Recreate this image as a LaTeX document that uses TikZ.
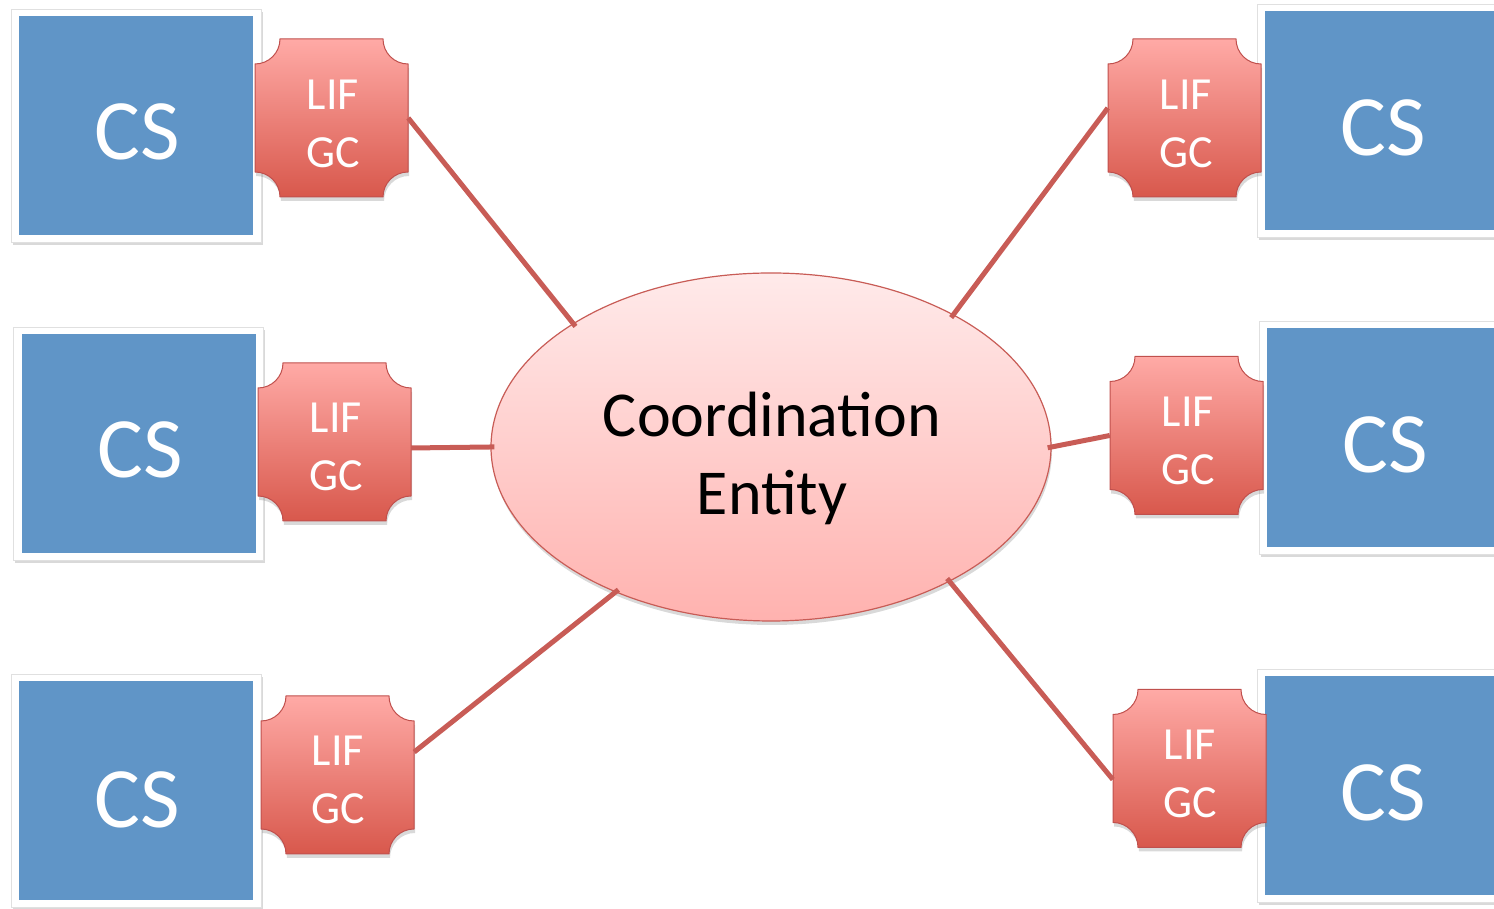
\documentclass[tikz,border=0pt]{standalone}
\usepackage{fontspec}
\setmainfont{Carlito}
\usetikzlibrary{shadows,shapes.geometric}
\definecolor{csblue}{RGB}{96,149,199}
\definecolor{plqtop}{RGB}{255,170,166}
\definecolor{plqbot}{RGB}{216,88,76}
\definecolor{plqedge}{RGB}{192,80,77}
\definecolor{elltop}{RGB}{255,234,234}
\definecolor{ellbot}{RGB}{255,178,175}
\definecolor{linkcol}{RGB}{200,92,86}
\tikzset{
  csframe/.style={rectangle, fill=white, draw=black!12, line width=0.6pt, inner sep=0pt,
    minimum width=250pt, minimum height=233pt,
    drop shadow={shadow xshift=1.5pt, shadow yshift=-3pt, opacity=0.3}},
  csinner/.style={rectangle, fill=csblue, inner sep=0pt, minimum width=234pt, minimum height=219pt},
  cstext/.style={text=white, inner sep=0pt, font=\fontsize{86}{96}\selectfont},
  plqfill/.style={top color=plqtop, bottom color=plqbot, draw=plqedge, line width=1pt,
    drop shadow={shadow xshift=1pt, shadow yshift=-4pt, opacity=0.3}},
  plqnode/.style={rectangle, inner sep=0pt, minimum width=153pt, minimum height=158pt},
  plqtext/.style={text=white, inner sep=0pt, align=center, font=\fontsize{46}{58}\selectfont},
  ellnode/.style={ellipse, minimum width=560pt, minimum height=348pt, inner sep=0pt,
    top color=elltop, bottom color=ellbot, draw=linkcol, line width=1.2pt,
    drop shadow={shadow xshift=1pt, shadow yshift=-4pt, opacity=0.3}},
  elltext/.style={text=black, inner sep=0pt, align=center, font=\fontsize{64}{78}\selectfont},
  link/.style={draw=linkcol, line width=5pt, shorten >=-4pt}
}
\newcommand{\myplaque}[5]{% name, cx, cy, textx, texty
  \begin{scope}[shift={(#2,#3)}]
    \path[plqfill] (-51.5,79) -- (51.5,79) arc[start angle=180,end angle=270,radius=25]
      -- (76.5,-54) arc[start angle=90,end angle=180,radius=25]
      -- (-51.5,-79) arc[start angle=0,end angle=90,radius=25]
      -- (-76.5,54) arc[start angle=270,end angle=360,radius=25] -- cycle;
    \node[plqnode] (#1) at (0,0) {};
  \end{scope}
  \node[plqtext] (#1t) at (#4,#5) {LIF\\GC};
}
\begin{document}
\begin{tikzpicture}[x=1pt,y=1pt]
\useasboundingbox (0,0) rectangle (1494,909);
\clip (0,0) rectangle (1494,909);

% CS boxes
\node[csframe] (f1) at (136,783.5) {};
\node[csinner] (c1) at (136,783.5) {};
\node[cstext] (t1) at (137,777) {CS};

\node[csframe] (f2) at (138.5,465.5) {};
\node[csinner] (c2) at (138.5,465.5) {};
\node[cstext] (t2) at (140,459) {CS};

\node[csframe] (f3) at (136,118) {};
\node[csinner] (c3) at (136,118) {};
\node[cstext] (t3) at (137,109) {CS};

\node[csframe] (f4) at (1382,788) {};
\node[csinner] (c4) at (1382,788) {};
\node[cstext] (t4) at (1383,781) {CS};

\node[csframe] (f5) at (1384,471.5) {};
\node[csinner] (c5) at (1384,471.5) {};
\node[cstext] (t5) at (1385,464) {CS};

\node[csframe] (f6) at (1382,123.5) {};
\node[csinner] (c6) at (1382,123.5) {};
\node[cstext] (t6) at (1383,116) {CS};

% Ellipse
\node[ellnode] (E) at (771,462) {};
\node[elltext] (Et) at (772,451) {Coordination\\Entity};

% Plaques
\myplaque{p1}{331.5}{791}{333}{785}
\myplaque{p2}{334.5}{467}{336}{462}
\myplaque{p3}{337.5}{134}{338}{129.5}
\myplaque{p4}{1184.5}{791}{1186}{785}
\myplaque{p5}{1186.5}{473.5}{1188}{468}
\myplaque{p6}{1189.5}{140.5}{1190}{135}

% Connectors
\draw[link] (p1.east) -- (E.148);
\draw[link] ([yshift=-6pt]p2.east) -- (E.west);
\draw[link] ([yshift=23pt]p3.east) -- (E.223);
\draw[link] ([yshift=10pt]p4.west) -- (E.36);
\draw[link] (p5.west) -- (E.east);
\draw[link] ([yshift=-11pt]p6.west) -- (E.323);
\end{tikzpicture}
\end{document}
